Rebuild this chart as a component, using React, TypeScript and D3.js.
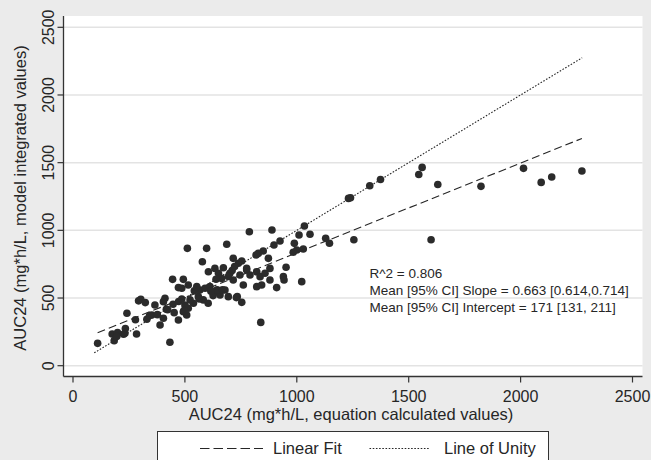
import * as d3 from 'd3';

// AUC24 pairs: equation calculated (x) vs model integrated (y)
const calcAuc = [
  // high end / outliers
  2274, 2139, 2092, 2013, 1823, 1630, 1560, 1545, 1600, 1374, 1326, 1240, 1231, 1255, 1146,
  // low end
  110, 184, 175, 199, 226, 234, 241, 284, 279, 293, 303, 323, 330, 342, 195, 232,
  // main cluster
  788, 889, 1034, 1059, 1129, 1010, 925, 898, 850, 828, 818, 873, 989, 1000, 984, 1029,
  511, 597, 687, 578, 952, 880, 1022, 940, 943, 910, 839, 433, 445, 493, 471, 486,
  515, 411, 404, 366, 352, 389, 404, 471, 493, 508, 515, 500, 538, 560, 582, 604,
  634, 657, 679, 694, 734, 754, 567, 590, 612, 605, 634, 672, 650, 664, 701, 716,
  746, 761, 776, 791, 821, 836, 858, 821, 843, 880, 716, 739, 754, 776,
  417, 452, 523, 542, 553, 626, 639, 644, 711, 722, 730, 377, 423, 447, 472, 486,
  496, 564, 616, 668, 694,
];
const modelAuc = [
  1438, 1394, 1354, 1458, 1325, 1339, 1465, 1413, 930, 1376, 1329, 1241, 1236, 930, 905,
  165, 185, 234, 244, 232, 274, 387, 234, 340, 479, 491, 466, 343, 370, 215, 240,
  990, 1003, 1032, 971, 941, 966, 921, 892, 847, 830, 818, 793, 904, 855, 838, 862,
  867, 867, 897, 768, 727, 719, 621, 658, 633, 577, 320, 173, 638, 638, 577, 572,
  596, 498, 473, 448, 375, 301, 350, 338, 399, 375, 424, 448, 461, 510, 486, 461,
  547, 522, 559, 510, 510, 468, 559, 572, 584, 694, 719, 724, 683, 645, 683, 633,
  670, 596, 707, 670, 694, 658, 683, 584, 596, 633, 793, 757, 773, 719,
  417, 392, 486, 553, 585, 518, 639, 560, 703, 733, 503, 377, 414, 454, 474, 493,
  407, 493, 550, 560, 659,
];

const fitSlope = 0.663;
const fitIntercept = 171;
const unityRange = [95, 2275];

const xTicks = [0, 500, 1000, 1500, 2000, 2500];
const yTicks = [0, 500, 1000, 1500, 2000, 2500];

const xTitle = 'AUC24 (mg*h/L, equation calculated values)';
const yTitle = 'AUC24 (mg*h/L, model integrated values)';
const statLines = [
  'R^2 = 0.806',
  'Mean [95% CI] Slope = 0.663 [0.614,0.714]',
  'Mean [95% CI] Intercept = 171 [131, 211]',
];
const legendLabels = ['Linear Fit', 'Line of Unity'];

const W = 651;
const H = 460;
const FONT = '"Liberation Sans", Arial, sans-serif';
const INK = '#262626';

export default function App() {
  const x = d3.scaleLinear().domain([0, 2500]).range([73, 632.5]);
  const y = d3.scaleLinear().domain([0, 2500]).range([365.7, 27.3]);

  const plotLeft = 63.5;
  const plotRight = 642.5;
  const plotTop = 16;
  const plotBottom = 376.5;

  const line = d3.line<[number, number]>().x(d => x(d[0])).y(d => y(d[1]));
  const [xMin, xMax] = d3.extent(calcAuc) as [number, number];
  const fitPath = line([
    [xMin, fitIntercept + fitSlope * xMin],
    [xMax, fitIntercept + fitSlope * xMax],
  ]);
  const unityPath = line([
    [unityRange[0], unityRange[0]],
    [unityRange[1], unityRange[1]],
  ]);

  const dashes = ['8,4', '1.6,1.6'];

  return (
    <svg width={W} height={H} style={{ position: 'absolute', left: 0, top: 0 }} fontFamily={FONT}>
      <rect x={0} y={0} width={W} height={H} fill="#ebebeb" />
      <rect x={plotLeft} y={plotTop} width={plotRight - plotLeft} height={plotBottom - plotTop} fill="#fff" />

      {/* gridlines */}
      {yTicks.map(t => (
        <line key={'g' + t} x1={plotLeft} x2={plotRight} y1={y(t)} y2={y(t)} stroke="#e3e3e3" strokeWidth={1.5} />
      ))}

      {/* fit lines */}
      <path d={fitPath ?? ''} fill="none" stroke={INK} strokeWidth={1.1} strokeDasharray={dashes[0]} />
      <path d={unityPath ?? ''} fill="none" stroke={INK} strokeWidth={1.1} strokeDasharray={dashes[1]} />

      {/* points */}
      {calcAuc.map((v, i) => (
        <circle key={i} cx={x(v)} cy={y(modelAuc[i])} r={3.8} fill="#2b2b2b" />
      ))}

      {/* axes */}
      <line x1={plotLeft} x2={plotLeft} y1={plotTop} y2={plotBottom} stroke="#333" strokeWidth={1.3} />
      <line x1={plotLeft} x2={plotRight} y1={plotBottom} y2={plotBottom} stroke="#333" strokeWidth={1.3} />
      {yTicks.map(t => (
        <g key={'y' + t}>
          <line x1={plotLeft - 6} x2={plotLeft} y1={y(t)} y2={y(t)} stroke="#333" strokeWidth={1.2} />
          <text
            transform={`translate(53.5,${y(t)}) rotate(-90)`}
            textAnchor="middle"
            fontSize={16}
            fill={INK}
          >
            {t}
          </text>
        </g>
      ))}
      {xTicks.map(t => (
        <g key={'x' + t}>
          <line x1={x(t)} x2={x(t)} y1={plotBottom} y2={plotBottom + 6} stroke="#333" strokeWidth={1.2} />
          <text x={x(t)} y={401.5} textAnchor="middle" fontSize={16} fill={INK}>
            {t}
          </text>
        </g>
      ))}
      <text x={351} y={419.5} textAnchor="middle" fontSize={16.5} fill={INK}>
        {xTitle}
      </text>
      <text transform={`translate(26,198) rotate(-90)`} textAnchor="middle" fontSize={16.5} fill={INK}>
        {yTitle}
      </text>

      {/* stats annotation */}
      {statLines.map((s, i) => (
        <text key={s} x={369.5} y={277.5 + i * 17.2} fontSize={13.5} fill={INK}>
          {s}
        </text>
      ))}

      {/* legend */}
      <rect x={157.5} y={431.5} width={391} height={40} fill="#fff" stroke="#333" strokeWidth={1} />
      <line x1={200} x2={263} y1={448.5} y2={448.5} stroke={INK} strokeWidth={1.1} strokeDasharray="9.5,4" />
      <text x={273} y={454} fontSize={16.5} fill={INK}>
        {legendLabels[0]}
      </text>
      <line x1={369.5} x2={430} y1={448.5} y2={448.5} stroke={INK} strokeWidth={1.1} strokeDasharray={dashes[1]} />
      <text x={444} y={454} fontSize={16.5} fill={INK}>
        {legendLabels[1]}
      </text>
    </svg>
  );
}
